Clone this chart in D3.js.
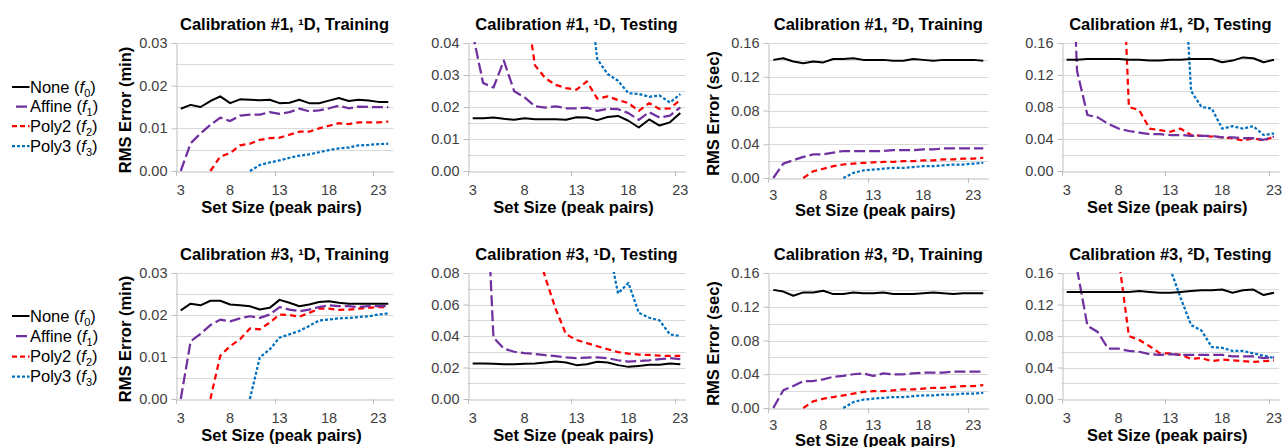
<!DOCTYPE html>
<html><head><meta charset="utf-8">
<script src="https://cdn.jsdelivr.net/npm/d3@7"></script>
<style>
body{margin:0;background:#fff;}
svg{font-family:"Liberation Sans", Arial, sans-serif;}
</style></head><body>
<svg id="c" width="1283" height="447"></svg>
<script>
// ---------- categories / tick labels ----------
const trainSizes = [3,4,5,6,7,8,9,10,11,12,13,14,15,16,17,18,19,20,21,22,23,24];
const testSizes  = [3,4,5,6,7,8,9,10,11,12,13,14,15,16,17,18,19,20,21,22,23];
const xTickLabels = [3, 8, 13, 18, 23];
const yTicksMin03 = [0, 0.01, 0.02, 0.03];
const yTicksMin04 = [0, 0.01, 0.02, 0.03, 0.04];
const yTicksMin08 = [0, 0.02, 0.04, 0.06, 0.08];
const yTicksSec16 = [0, 0.04, 0.08, 0.12, 0.16];
const seriesNames = ["None", "Affine", "Poly2", "Poly3"];
const seriesSubs  = ["0", "1", "2", "3"];

// ---------- Calibration #1, 1D, Training ----------
const c1_1D_train_none   = [0.0146,0.0155,0.0150,0.0164,0.0175,0.0159,0.0168,0.0167,0.0166,0.0167,0.0159,0.0160,0.0167,0.0159,0.0159,0.0165,0.0171,0.0164,0.0167,0.0165,0.0162,0.0162];
const c1_1D_train_affine = [0.0000,0.0065,0.0088,0.0108,0.0125,0.0117,0.0130,0.0132,0.0132,0.0138,0.0134,0.0138,0.0146,0.0140,0.0142,0.0147,0.0153,0.0147,0.0151,0.0150,0.0150,0.0150];
const c1_1D_train_poly2  = [null,null,null,0.0000,0.0034,0.0042,0.0060,0.0064,0.0073,0.0077,0.0078,0.0085,0.0092,0.0092,0.0100,0.0106,0.0112,0.0110,0.0114,0.0114,0.0114,0.0116];
const c1_1D_train_poly3  = [null,null,null,null,null,null,null,0.0000,0.0014,0.0020,0.0025,0.0031,0.0036,0.0039,0.0044,0.0049,0.0053,0.0055,0.0060,0.0061,0.0063,0.0064];
// ---------- Calibration #1, 1D, Testing ----------
const c1_1D_test_none   = [0.0165,0.0165,0.0167,0.0163,0.0160,0.0165,0.0162,0.0162,0.0162,0.0160,0.0168,0.0167,0.0159,0.0169,0.0172,0.0157,0.0136,0.0161,0.0142,0.0152,0.0181];
const c1_1D_test_affine = [0.0430,0.0275,0.0261,0.0345,0.0249,0.0230,0.0202,0.0198,0.0202,0.0196,0.0196,0.0198,0.0188,0.0194,0.0193,0.0181,0.0160,0.0184,0.0167,0.0173,0.0199];
const c1_1D_test_poly2  = [null,null,null,null,null,0.0550,0.0330,0.0290,0.0269,0.0259,0.0254,0.0280,0.0226,0.0233,0.0222,0.0212,0.0188,0.0212,0.0194,0.0196,0.0222];
const c1_1D_test_poly3  = [null,null,null,null,null,null,null,null,null,null,null,0.0620,0.0350,0.0303,0.0282,0.0243,0.0241,0.0232,0.0236,0.0214,0.0240];
// ---------- Calibration #1, 2D, Training ----------
const c1_2D_train_none   = [0.140,0.142,0.138,0.136,0.138,0.137,0.141,0.141,0.142,0.140,0.140,0.140,0.139,0.139,0.141,0.140,0.139,0.140,0.140,0.140,0.140,0.139];
const c1_2D_train_affine = [0.000,0.017,0.021,0.025,0.028,0.028,0.030,0.032,0.032,0.032,0.032,0.032,0.033,0.033,0.033,0.034,0.034,0.035,0.035,0.035,0.035,0.035];
const c1_2D_train_poly2  = [null,null,null,0.000,0.008,0.011,0.014,0.016,0.017,0.0178,0.0186,0.019,0.019,0.020,0.020,0.021,0.021,0.022,0.022,0.023,0.023,0.024];
const c1_2D_train_poly3  = [null,null,null,null,null,null,null,0.000,0.006,0.009,0.010,0.011,0.012,0.012,0.013,0.014,0.014,0.015,0.016,0.016,0.017,0.018];
// ---------- Calibration #1, 2D, Testing ----------
const c1_2D_test_none   = [0.139,0.139,0.140,0.140,0.140,0.140,0.139,0.139,0.138,0.138,0.139,0.139,0.140,0.140,0.140,0.136,0.138,0.142,0.141,0.136,0.139];
const c1_2D_test_affine = [0.450,0.125,0.070,0.067,0.059,0.053,0.050,0.048,0.046,0.046,0.045,0.045,0.044,0.044,0.044,0.042,0.042,0.041,0.041,0.039,0.043];
const c1_2D_test_poly2  = [null,null,null,null,null,0.390,0.080,0.076,0.053,0.051,0.049,0.053,0.045,0.044,0.043,0.042,0.041,0.038,0.041,0.038,0.043];
const c1_2D_test_poly3  = [null,null,null,null,null,null,null,null,null,null,null,0.330,0.100,0.080,0.078,0.053,0.056,0.053,0.056,0.045,0.047];
// ---------- Calibration #3, 1D, Training ----------
const c3_1D_train_none   = [0.0211,0.0227,0.0223,0.0234,0.0234,0.0225,0.0223,0.0221,0.0213,0.0217,0.0236,0.0229,0.0221,0.0225,0.0231,0.0233,0.0229,0.0227,0.0227,0.0227,0.0227,0.0227];
const c3_1D_train_affine = [0.0000,0.0137,0.0155,0.0176,0.0189,0.0185,0.0192,0.0197,0.0193,0.0201,0.0219,0.0213,0.0209,0.0213,0.0219,0.0223,0.0221,0.0221,0.0219,0.0221,0.0221,0.0221];
const c3_1D_train_poly2  = [null,null,null,0.0000,0.0103,0.0126,0.0142,0.0168,0.0166,0.0182,0.0201,0.0200,0.0196,0.0205,0.0215,0.0215,0.0212,0.0213,0.0215,0.0217,0.0219,0.0219];
const c3_1D_train_poly3  = [null,null,null,null,null,null,null,0.0000,0.0099,0.0118,0.0146,0.0154,0.0162,0.0174,0.0187,0.0189,0.0192,0.0193,0.0195,0.0197,0.0201,0.0204];
// ---------- Calibration #3, 1D, Testing ----------
const c3_1D_test_none   = [0.0225,0.0225,0.0224,0.0221,0.0221,0.0224,0.0225,0.0232,0.0238,0.0232,0.0215,0.0221,0.0236,0.0232,0.0215,0.0204,0.0210,0.0217,0.0217,0.0225,0.0221];
const c3_1D_test_affine = [null,0.180,0.0390,0.0320,0.0300,0.0292,0.0286,0.0278,0.0272,0.0265,0.0260,0.0263,0.0265,0.0259,0.0246,0.0238,0.0242,0.0246,0.0253,0.0259,0.0253];
const c3_1D_test_poly2  = [null,null,null,null,null,null,0.100,0.0770,0.0570,0.0410,0.0375,0.0355,0.0335,0.0316,0.0298,0.0288,0.0282,0.0280,0.0275,0.0274,0.0274];
const c3_1D_test_poly3  = [null,null,null,null,null,null,null,null,null,null,null,null,null,0.100,0.0670,0.0737,0.0547,0.0516,0.0499,0.0410,0.0400];
// ---------- Calibration #3, 2D, Training ----------
const c3_2D_train_none   = [0.140,0.138,0.133,0.137,0.137,0.139,0.135,0.135,0.137,0.136,0.136,0.137,0.135,0.135,0.135,0.136,0.137,0.136,0.135,0.136,0.136,0.136];
const c3_2D_train_affine = [0.000,0.021,0.026,0.032,0.032,0.034,0.037,0.038,0.040,0.041,0.038,0.041,0.040,0.040,0.041,0.042,0.042,0.042,0.043,0.043,0.043,0.043];
const c3_2D_train_poly2  = [null,null,null,0.000,0.008,0.011,0.013,0.015,0.017,0.019,0.020,0.020,0.021,0.022,0.022,0.023,0.024,0.024,0.025,0.026,0.026,0.027];
const c3_2D_train_poly3  = [null,null,null,null,null,null,null,0.000,0.007,0.010,0.011,0.012,0.013,0.013,0.014,0.015,0.015,0.016,0.016,0.017,0.017,0.018];
// ---------- Calibration #3, 2D, Testing ----------
const c3_2D_test_none   = [0.136,0.136,0.136,0.136,0.136,0.136,0.136,0.137,0.136,0.135,0.135,0.136,0.137,0.138,0.138,0.139,0.135,0.138,0.139,0.132,0.135];
const c3_2D_test_affine = [null,0.165,0.093,0.085,0.064,0.064,0.061,0.060,0.057,0.056,0.057,0.056,0.056,0.056,0.056,0.056,0.054,0.054,0.054,0.052,0.053];
const c3_2D_test_poly2  = [null,null,null,null,null,0.180,0.080,0.075,0.067,0.058,0.058,0.056,0.051,0.052,0.048,0.050,0.049,0.048,0.047,0.048,0.049];
const c3_2D_test_poly3  = [null,null,null,null,null,null,null,null,null,null,0.165,0.128,0.094,0.087,0.066,0.065,0.061,0.061,0.058,0.055,0.052];

// ---------- panel specs ----------
const panels = [
  {cal:"1", dim:"¹D", phase:"Training", cats:trainSizes, yMax:0.03, yTicks:yTicksMin03, yGrid:0.005, yTitle:"RMS Error (min)",
   data:[c1_1D_train_none,c1_1D_train_affine,c1_1D_train_poly2,c1_1D_train_poly3]},
  {cal:"1", dim:"¹D", phase:"Testing", cats:testSizes, yMax:0.04, yTicks:yTicksMin04, yGrid:0.005, yTitle:null,
   data:[c1_1D_test_none,c1_1D_test_affine,c1_1D_test_poly2,c1_1D_test_poly3]},
  {cal:"1", dim:"²D", phase:"Training", cats:trainSizes, yMax:0.16, yTicks:yTicksSec16, yGrid:0.02, yTitle:"RMS Error (sec)",
   data:[c1_2D_train_none,c1_2D_train_affine,c1_2D_train_poly2,c1_2D_train_poly3]},
  {cal:"1", dim:"²D", phase:"Testing", cats:testSizes, yMax:0.16, yTicks:yTicksSec16, yGrid:0.02, yTitle:null,
   data:[c1_2D_test_none,c1_2D_test_affine,c1_2D_test_poly2,c1_2D_test_poly3]},
  {cal:"3", dim:"¹D", phase:"Training", cats:trainSizes, yMax:0.03, yTicks:yTicksMin03, yGrid:0.005, yTitle:"RMS Error (min)",
   data:[c3_1D_train_none,c3_1D_train_affine,c3_1D_train_poly2,c3_1D_train_poly3]},
  {cal:"3", dim:"¹D", phase:"Testing", cats:testSizes, yMax:0.08, yTicks:yTicksMin08, yGrid:0.01, yTitle:null,
   data:[c3_1D_test_none,c3_1D_test_affine,c3_1D_test_poly2,c3_1D_test_poly3]},
  {cal:"3", dim:"²D", phase:"Training", cats:trainSizes, yMax:0.16, yTicks:yTicksSec16, yGrid:0.02, yTitle:"RMS Error (sec)",
   data:[c3_2D_train_none,c3_2D_train_affine,c3_2D_train_poly2,c3_2D_train_poly3]},
  {cal:"3", dim:"²D", phase:"Testing", cats:testSizes, yMax:0.16, yTicks:yTicksSec16, yGrid:0.02, yTitle:null,
   data:[c3_2D_test_none,c3_2D_test_affine,c3_2D_test_poly2,c3_2D_test_poly3]},
];

// ---------- layout (positions / styles, not data) ----------
const colX = [[175.8,393.2],[467.5,685.5],[768.3,988.3],[1061.5,1279.2]];
const rowTop = [43, 273];
const rowBottom = [[171,171,178,171],[399,399,408,399]];
const yTitleX = [131, 0, 719, 0];
const legendRows = [[87,106.5,126,146],[316,336.2,356.5,376.7]];
const styles = [
  {color:"#000000", width:2,    dash:null},
  {color:"#7030A0", width:2.25, dash:"11,4"},
  {color:"#FF0000", width:2.25, dash:"6,4"},
  {color:"#0070C0", width:2.25, dash:"3,2"},
];
const GRID = "#d9d9d9", AXIS = "#bfbfbf", TICKTXT = "#404040";

const svg = d3.select("#c");
const defs = svg.append("defs");

panels.forEach((p, k) => {
  const col = k % 4, row = Math.floor(k / 4);
  const [x0, x1] = colX[col];
  const y0 = rowTop[row], y1 = rowBottom[row][col];
  const x = d3.scaleBand().domain(p.cats).range([x0, x1]).padding(0);
  const y = d3.scaleLinear().domain([0, p.yMax]).range([y1, y0]);
  const cx = c => x(c) + x.bandwidth() / 2;
  const g = svg.append("g");

  // gridlines
  const gridVals = d3.range(0, Math.round(p.yMax / p.yGrid) + 1).map(i => i * p.yGrid);
  g.append("g").selectAll("line").data(gridVals.filter(v => v > 0)).join("line")
    .attr("x1", x0).attr("x2", x1)
    .attr("y1", d => Math.round(y(d)) + 0.5).attr("y2", d => Math.round(y(d)) + 0.5)
    .attr("stroke", GRID).attr("stroke-width", 1);

  // y axis
  const ya = g.append("g").attr("transform", `translate(${Math.round(x0)+0.5},0)`)
    .call(d3.axisLeft(y).tickValues(p.yTicks).tickFormat(d3.format(".2f")).tickSize(5).tickSizeOuter(0).tickPadding(4));
  ya.select(".domain").attr("stroke", AXIS);
  ya.selectAll(".tick line").attr("stroke", AXIS);
  ya.selectAll(".tick text").attr("fill", TICKTXT).attr("font-size", 14.5)
    .attr("font-family", "Liberation Sans, Arial, sans-serif");

  // x axis
  const xa = g.append("g").attr("transform", `translate(0,${Math.round(y1)+0.5})`)
    .call(d3.axisBottom(x).tickValues(xTickLabels).tickSize(0).tickSizeOuter(0).tickPadding(col === 2 ? 11 : 13));
  xa.select(".domain").attr("stroke", AXIS);
  xa.selectAll(".tick text").attr("fill", TICKTXT).attr("font-size", 14.5)
    .attr("font-family", "Liberation Sans, Arial, sans-serif");
  // tick marks at category boundaries every 10 categories
  const tickCats = [p.cats[0], p.cats[10], p.cats[20]];
  g.append("g").selectAll("line").data(tickCats).join("line")
    .attr("x1", d => Math.round(x(d)) + 0.5).attr("x2", d => Math.round(x(d)) + 0.5)
    .attr("y1", y1).attr("y2", y1 + 5).attr("stroke", AXIS);

  // clip
  const cid = "clip" + k;
  defs.append("clipPath").attr("id", cid).append("rect")
    .attr("x", x0).attr("y", y0 - 1).attr("width", x1 - x0 + 2).attr("height", y1 - y0 + 3);

  // lines
  const line = d3.line().defined(d => d.v != null).x(d => cx(d.c)).y(d => y(d.v));
  const lg = g.append("g").attr("clip-path", `url(#${cid})`);
  [3, 2, 1, 0].forEach(s => {
    const pts = p.cats.map((c, i) => ({c, v: p.data[s][i]}));
    lg.append("path").datum(pts).attr("d", line)
      .attr("fill", "none").attr("stroke", styles[s].color)
      .attr("stroke-width", styles[s].width)
      .attr("stroke-dasharray", styles[s].dash)
      .attr("stroke-linejoin", "round");
  });

  // title
  svg.append("text").attr("x", (x0 + x1) / 2).attr("y", y0 - 13)
    .attr("text-anchor", "middle").attr("font-weight", "bold").attr("font-size", 16.5).attr("fill", "#000")
    .text(`Calibration #${p.cal}, ${p.dim}, ${p.phase}`);

  // x title
  svg.append("text").attr("x", (x0 + x1) / 2 - 3).attr("y", y1 + (col === 2 ? 37.5 : 42))
    .attr("text-anchor", "middle").attr("font-weight", "bold").attr("font-size", 16.5).attr("fill", "#000")
    .text("Set Size (peak pairs)");

  // y title
  if (p.yTitle) {
    svg.append("text").attr("transform", `translate(${yTitleX[col]},${(y0 + y1) / 2 + 3}) rotate(-90)`)
      .attr("text-anchor", "middle").attr("font-weight", "bold").attr("font-size", 16.5).attr("fill", "#000")
      .text(p.yTitle);
  }
});

// legends
legendRows.forEach(ys => {
  const lg = svg.append("g");
  seriesNames.forEach((name, s) => {
    const yy = ys[s];
    lg.append("line").attr("x1", 12).attr("x2", 29.5).attr("y1", yy).attr("y2", yy)
      .attr("stroke", styles[s].color).attr("stroke-width", styles[s].width)
      .attr("stroke-dasharray", s === 1 ? "0,4,11,4" : (s === 2 ? "5,3" : styles[s].dash));
    const t = lg.append("text").attr("x", 30).attr("y", yy + 5.5).attr("font-size", 16.5).attr("fill", "#000");
    t.append("tspan").text(name + " (");
    t.append("tspan").attr("font-style", "italic").text("f");
    t.append("tspan").attr("font-size", 11).attr("dy", 4).text(seriesSubs[s]);
    t.append("tspan").attr("dy", -4).text(")");
  });
});
</script>
</body></html>
